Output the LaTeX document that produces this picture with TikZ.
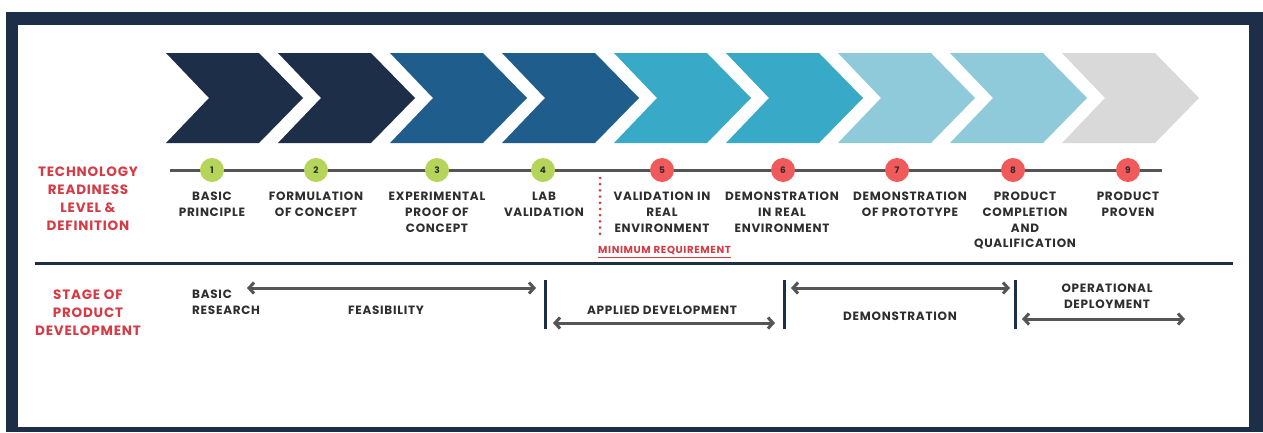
\documentclass[tikz,border=0pt]{standalone}
\usepackage{fontspec}
\setmainfont{Poppins}[LetterSpace=6]
\usetikzlibrary{arrows.meta}
\definecolor{navy}{HTML}{1C2E48}
\definecolor{midblue}{HTML}{1F5D8C}
\definecolor{cyanblue}{HTML}{38A9C6}
\definecolor{lightblue}{HTML}{8FCADB}
\definecolor{lightgray}{HTML}{D9D9D9}
\definecolor{linegray}{HTML}{555555}
\definecolor{txtgray}{HTML}{2E2E2E}
\definecolor{trlred}{HTML}{D63B45}
\definecolor{dotgreen}{HTML}{B5D55A}
\definecolor{dotred}{HTML}{F05A5A}

\begin{document}
\begin{tikzpicture}[x=1pt, y=-1pt,
    defn/.style={font=\bfseries\fontsize{12}{15.7}\selectfont, text=txtgray,
      align=center, anchor=north, inner sep=0pt},
    rowhead/.style={font=\bfseries\fontsize{13.5}{18}\selectfont, text=trlred,
      align=center, anchor=north, inner sep=0pt},
    level/.style={circle, fill=#1, minimum size=24pt, inner sep=0pt,
      font=\bfseries\fontsize{9}{10}\selectfont, text=txtgray},
    span/.style={{Straight Barb[length=5pt,width=11pt]}-{Straight Barb[length=5pt,width=11pt]},
      draw=linegray, line width=3pt},
    stagebar/.style={draw=navy, line width=3pt}]
  \useasboundingbox (0,0) rectangle (1263,432);
  \fill[white] (0,0) rectangle (1263,432);

  % Frame
  \fill[navy] (6,12) rectangle (1263,432);
  \fill[white] (18,25) rectangle (1249,427);

  % Chevrons
  \foreach \i/\col in {0/navy,1/navy,2/midblue,3/midblue,4/cyanblue,5/cyanblue,
      6/lightblue,7/lightblue,8/lightgray}
    \fill[\col] ({166+112*\i},53) -- ++(93,0) -- ++(44,45) -- ++(-44,45)
      -- ++(-93,0) -- ++(43,-45) -- cycle;

  % Timeline
  \coordinate (tstart) at (170,170);
  \coordinate (tend) at (1162,170);
  \draw[linegray, line width=3pt] (tstart) -- (tend);

  % Readiness levels
  \foreach \i/\x/\col in {1/212/dotgreen,2/316/dotgreen,3/437/dotgreen,4/543/dotgreen,
      5/662/dotred,6/783/dotred,7/897/dotred,8/1013/dotred,9/1128/dotred}
    \node[level=\col] (trl\i) at (\x,170) {\i};

  % Definitions
  \node[defn] (def1) at (212,192) {BASIC\\PRINCIPLE};
  \node[defn] (def2) at (316,192) {FORMULATION\\OF CONCEPT};
  \node[defn] (def3) at (437,192) {EXPERIMENTAL\\PROOF OF\\CONCEPT};
  \node[defn] (def4) at (544,192) {LAB\\VALIDATION};
  \node[defn] (def5) at (662,192) {VALIDATION IN\\REAL\\ENVIRONMENT};
  \node[defn] (def6) at (782,192) {DEMONSTRATION\\IN REAL\\ENVIRONMENT};
  \node[defn] (def7) at (910,192) {DEMONSTRATION\\OF PROTOTYPE};
  \node[defn] (def8) at (1025,192) {PRODUCT\\COMPLETION\\AND\\QUALIFICATION};
  \node[defn] (def9) at (1128,192) {PRODUCT\\PROVEN};

  % Row headings
  \node[rowhead] (trlhead) at (88,167) {TECHNOLOGY\\READINESS\\LEVEL \&\\DEFINITION};
  \node[rowhead] (stagehead) at (88,290) {STAGE OF\\PRODUCT\\DEVELOPMENT};

  % Minimum requirement
  \coordinate (mintop) at (600,178);
  \coordinate (minbot) at (600,234);
  \draw[trlred, line width=3pt, line cap=round, dash pattern=on 0pt off 6.2pt]
    (mintop) -- (minbot);
  \node[font=\bfseries\fontsize{10.2}{11}\selectfont, text=trlred, anchor=north west,
    inner sep=0pt] (minreq) at (598,246.5) {MINIMUM REQUIREMENT};
  \draw[trlred, line width=0.8pt] ([yshift=-1.6pt]minreq.south west)
    -- ([yshift=-1.6pt]minreq.south east);

  % Separator
  \coordinate (sepl) at (35,263);
  \coordinate (sepr) at (1233,263);
  \draw[navy, line width=3pt] (sepl) -- (sepr);

  % Stages
  \node[defn, align=left, anchor=north west] (basic) at (192,290) {BASIC\\RESEARCH};
  \node[defn] (feas) at (386,306) {FEASIBILITY};
  \node[defn] (applied) at (662,306) {APPLIED DEVELOPMENT};
  \node[defn] (demo) at (900,312) {DEMONSTRATION};
  \node[defn] (oper) at (1107,284) {OPERATIONAL\\DEPLOYMENT};

  \foreach \i/\x in {1/545,2/784,3/1015} {
    \coordinate (bar\i t) at (\x,280);
    \coordinate (bar\i b) at (\x,329);
    \draw[stagebar] (bar\i t) -- (bar\i b);
  }

  \coordinate (feasl) at (247,288);
  \coordinate (feasr) at (536,288);
  \coordinate (appl) at (553,323);
  \coordinate (appr) at (775,323);
  \coordinate (demol) at (791,288);
  \coordinate (demor) at (1010,288);
  \coordinate (operl) at (1022,319);
  \coordinate (operr) at (1185,319);
  \draw[span] (feasl) -- (feasr);
  \draw[span] (appl) -- (appr);
  \draw[span] (demol) -- (demor);
  \draw[span] (operl) -- (operr);
\end{tikzpicture}
\end{document}
